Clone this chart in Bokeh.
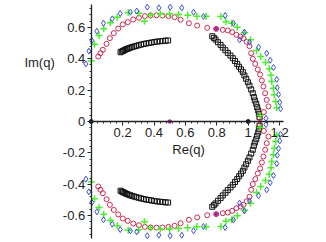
from bokeh.plotting import figure
from bokeh.models import FixedTicker, Label, Range1d
from bokeh.embed import file_html
from bokeh.resources import INLINE
import numpy as np

# ---- data (upper half; zeros come in complex-conjugate pairs) ----
black_x = [0.187, 0.195, 0.203, 0.211, 0.219, 0.228, 0.238, 0.249, 0.261, 0.274, 0.288, 0.303,
           0.318, 0.334, 0.350, 0.367, 0.384, 0.402, 0.420, 0.438, 0.456, 0.474, 0.490,
           0.771, 0.781, 0.792, 0.807, 0.824, 0.838, 0.855, 0.870, 0.887, 0.902, 0.916, 0.930,
           0.942, 0.954, 0.966, 0.976, 0.987, 0.998, 1.008, 1.019, 1.029, 1.036, 1.042, 1.051,
           1.057, 1.064, 1.068, 1.072]
black_y = [0.441, 0.446, 0.450, 0.454, 0.458, 0.462, 0.466, 0.470, 0.474, 0.478, 0.482, 0.486,
           0.490, 0.494, 0.497, 0.500, 0.503, 0.506, 0.509, 0.511, 0.513, 0.515, 0.516,
           0.543, 0.533, 0.522, 0.505, 0.488, 0.471, 0.454, 0.437, 0.420, 0.403, 0.385, 0.367,
           0.349, 0.332, 0.314, 0.293, 0.272, 0.250, 0.229, 0.204, 0.180, 0.155, 0.134, 0.113,
           0.091, 0.070, 0.049, 0.027]

red_x = [0.045, 0.059, 0.074, 0.098, 0.119, 0.144, 0.172, 0.201, 0.233, 0.268, 0.304, 0.342,
         0.378, 0.416, 0.454, 0.492, 0.531, 0.569, 0.622, 0.675, 0.739, 0.796, 0.838, 0.870,
         0.898, 0.925, 0.951, 0.970, 0.990, 1.008, 1.019, 1.029, 1.045, 1.061, 1.076, 1.087,
         1.097, 1.108, 1.118, 1.129, 1.100, 1.075]
red_y = [0.414, 0.435, 0.457, 0.495, 0.531, 0.563, 0.592, 0.618, 0.633, 0.650, 0.661, 0.671,
         0.675, 0.676, 0.675, 0.671, 0.664, 0.648, 0.626, 0.611, 0.597, 0.590, 0.584, 0.580,
         0.569, 0.552, 0.541, 0.530, 0.508, 0.480, 0.435, 0.399, 0.367, 0.331, 0.299, 0.261,
         0.223, 0.180, 0.138, 0.096, 0.060, 0.022]

green_x = [0.000, 0.021, 0.050, 0.080, 0.122, 0.166, 0.236, 0.303, 0.339, 0.378, 0.440, 0.499,
           0.556, 0.615, 0.673, 0.732, 0.826, 0.858, 0.895, 0.930, 0.976, 1.015, 1.053, 1.080,
           1.110, 1.134, 1.145, 1.150, 1.160, 1.166, 1.175, 1.182, 1.076]
green_y = [0.386, 0.492, 0.548, 0.590, 0.629, 0.664, 0.692, 0.690, 0.639, 0.676, 0.684, 0.686,
           0.682, 0.676, 0.671, 0.671, 0.669, 0.636, 0.625, 0.601, 0.565, 0.520, 0.452, 0.414,
           0.375, 0.336, 0.295, 0.255, 0.212, 0.170, 0.128, 0.087, 0.038]

blue_x = [-0.034, -0.015, 0.004, 0.036, 0.078, 0.134, 0.185, 0.250, 0.290, 0.357, 0.431, 0.503,
          0.577, 0.652, 0.715, 0.853, 0.906, 0.945, 0.976, 1.008, 1.066, 1.118, 1.140, 1.161,
          1.182, 1.185, 1.193, 1.201, 1.206, 1.113]
blue_y = [0.367, 0.448, 0.516, 0.575, 0.626, 0.654, 0.688, 0.696, 0.703, 0.728, 0.724, 0.728,
          0.724, 0.696, 0.669, 0.675, 0.626, 0.520, 0.569, 0.505, 0.473, 0.435, 0.390, 0.344,
          0.268, 0.215, 0.172, 0.123, 0.081, 0.020]

special_x = [0.0, 1.0]
special_y = [0.0, 0.0]
purple_x = [0.5, 0.796, 0.796]
purple_y = [0.0, 0.590, -0.590]

x_ticks = [0.2, 0.4, 0.6, 0.8, 1.0, 1.2]
x_labels = {0.2: "0.2", 0.4: "0.4", 0.6: "0.6", 0.8: "0.8", 1.0: "1", 1.2: "1.2"}
y_ticks = [-0.6, -0.4, -0.2, 0.0, 0.2, 0.4, 0.6]
y_labels = {-0.6: "-0.6", -0.4: "-0.4", -0.2: "-0.2", 0.0: "0", 0.2: "0.2", 0.4: "0.4", 0.6: "0.6"}


def both(xs, ys):
    return list(xs) + list(xs), list(ys) + [-v for v in ys]


p = figure(width=326, height=242, output_backend="svg", toolbar_location=None,
           x_range=Range1d(-0.5777, 1.4987), y_range=Range1d(-0.7707, 0.7707),
           min_border=0, outline_line_color=None)
p.grid.visible = False

for ax in (p.xaxis[0], p.yaxis[0]):
    ax.fixed_location = 0
    ax.axis_line_color = "#222222"
    ax.axis_line_width = 1.3
    ax.major_tick_line_color = "#222222"
    ax.minor_tick_line_color = "#333333"
    ax.major_tick_out = 4
    ax.major_tick_in = 0
    ax.minor_tick_out = 2
    ax.minor_tick_in = 0
    ax.major_label_text_font = "Liberation Sans"
    ax.major_label_text_font_size = "13px"
    ax.major_label_text_color = "#222222"
    ax.major_label_standoff = 2

p.xaxis.bounds = (0, 1.225)
p.yaxis.bounds = (-0.745, 0.745)
p.xaxis.ticker = FixedTicker(ticks=x_ticks, minor_ticks=list(np.round(np.arange(0.04, 1.22, 0.04), 2)))
p.yaxis.ticker = FixedTicker(ticks=y_ticks, minor_ticks=list(np.round(np.arange(-0.72, 0.73, 0.04), 2)))
p.xaxis.major_label_overrides = x_labels
p.yaxis.major_label_overrides = y_labels

bx, by = both(black_x, black_y)
p.scatter(bx, by, marker="square", size=5, fill_color=None, line_color="#111111", line_width=1)
rx, ry = both(red_x, red_y)
p.scatter(rx, ry, marker="circle", size=5, fill_color=None, line_color="#cc2a55", line_width=1)
gx, gy = both(green_x, green_y)
p.scatter(gx, gy, marker="cross", size=7, line_color="#4cf02a", line_width=1.5)
ux, uy = both(blue_x, blue_y)
p.scatter(ux, uy, marker="diamond", size=6, fill_color=None, line_color="#3a4fd8", line_width=1)
p.scatter(special_x, special_y, marker="circle", size=4, fill_color="#111133", line_color="#111133")
p.scatter(purple_x, purple_y, marker="circle", size=3.5, fill_color="#aa2299", line_color="#aa2299")

p.add_layout(Label(x=-0.329, y=0.376, text="Im(q)", text_align="center", text_baseline="middle",
                   text_font="Liberation Sans", text_font_size="13px", text_color="#222222"))
p.add_layout(Label(x=0.62, y=-0.178, text="Re(q)", text_align="center", text_baseline="middle",
                   text_font="Liberation Sans", text_font_size="13px", text_color="#222222"))

open("out.html", "w").write(file_html(p, INLINE))
